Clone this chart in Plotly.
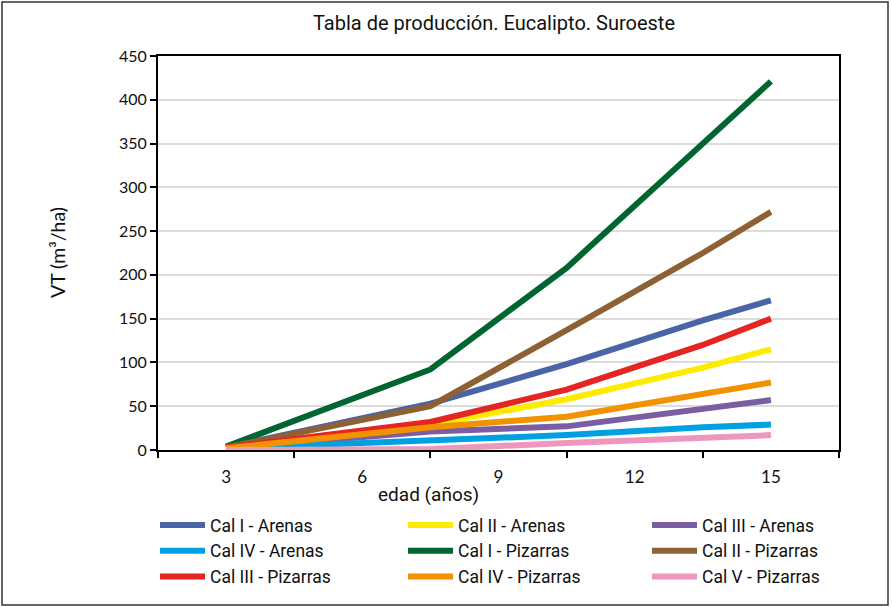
import plotly.graph_objects as go

# Edad (años) de cada medición
edad = [3, 7.5, 10.5, 13.5, 15]

# Volumen total (m3/ha) por calidad de estación y sustrato
cal_i_arenas = [3, 53, 98, 148, 171]
cal_ii_arenas = [3, 29, 58, 94, 115]
cal_iii_arenas = [2, 21, 27, 46, 57]
cal_iv_arenas = [2, 11, 17, 26, 29]
cal_i_pizarras = [4, 92, 208, 350, 421]
cal_ii_pizarras = [3, 50, 137, 225, 272]
cal_iii_pizarras = [3, 32, 69, 120, 150]
cal_iv_pizarras = [2, 26, 38, 64, 77]
cal_v_pizarras = [0, 1, 8, 14, 17]

series_names = [
    "Cal I - Arenas", "Cal II - Arenas", "Cal III - Arenas",
    "Cal IV - Arenas", "Cal I - Pizarras", "Cal II - Pizarras",
    "Cal III - Pizarras", "Cal IV - Pizarras", "Cal V - Pizarras",
]
series_values = [
    cal_i_arenas, cal_ii_arenas, cal_iii_arenas,
    cal_iv_arenas, cal_i_pizarras, cal_ii_pizarras,
    cal_iii_pizarras, cal_iv_pizarras, cal_v_pizarras,
]
series_colors = [
    "#4a64a8", "#ffeb00", "#7b5ea1",
    "#00a0e1", "#006530", "#8e6135",
    "#e52522", "#f39200", "#ee97be",
]

x_tick_vals = [3, 6, 9, 12, 15]
x_tick_text = ["3", "6", "9", "12", "15"]
x_sep_ticks = [1.5, 4.5, 7.5, 10.5, 13.5, 16.5]
y_tick_vals = list(range(0, 451, 50))

W, H = 892, 607
ML, MR, MT, MB = 158, 53, 56, 157
PW, PH = W - ML - MR, H - MT - MB

textfont = "Roboto, Noto Sans, sans-serif"
numfont = "Lato, Noto Sans, sans-serif"

# la leyenda se reparte en tres columnas
legend_ids = ["legend", "legend2", "legend3"]
legend_left_px = [155, 403, 647]

fig = go.Figure()
for i, (name, vals, col) in enumerate(zip(series_names, series_values, series_colors)):
    fig.add_trace(go.Scatter(
        x=edad, y=vals, name=name, mode="lines",
        line=dict(color=col, width=6),
        legend=legend_ids[i % 3],
    ))

legend_common = dict(
    orientation="v", xanchor="left", y=-(507 - (H - MB)) / PH, yanchor="top",
    itemwidth=45, font=dict(family=textfont, size=17.5, color="#111"),
    tracegroupgap=0, bgcolor="rgba(0,0,0,0)", borderwidth=0,
)

fig.update_layout(
    width=W, height=H,
    margin=dict(l=ML, r=MR, t=MT, b=MB, autoexpand=False),
    paper_bgcolor="white", plot_bgcolor="white",
    title=dict(text="Tabla de producción. Eucalipto. Suroeste",
               x=494 / W, xanchor="center", y=1 - 23 / H, yanchor="middle",
               font=dict(family=textfont, size=20, color="#111")),
    xaxis=dict(
        range=[1.5, 16.5], tickmode="array", tickvals=x_tick_vals,
        ticktext=x_tick_text, ticks="", showgrid=False, zeroline=False,
        showline=True, linecolor="black", linewidth=2, mirror=True,
        ticklabelstandoff=11,
        tickfont=dict(family=numfont, size=17, color="#111"),
        minor=dict(tickmode="array", tickvals=x_sep_ticks, ticks="outside",
                   ticklen=6, tickwidth=2, tickcolor="black", showgrid=False),
    ),
    yaxis=dict(
        range=[0, 450], tickmode="array", tickvals=y_tick_vals,
        ticks="outside", ticklen=6, tickwidth=2, tickcolor="black",
        showgrid=True, gridcolor="#dcdcdc", gridwidth=1.5, zeroline=False,
        showline=True, linecolor="black", linewidth=2, mirror=True,
        tickfont=dict(family=numfont, size=16, color="#111"),
    ),
    legend=dict(x=(legend_left_px[0] - ML) / PW, **legend_common),
    legend2=dict(x=(legend_left_px[1] - ML) / PW, **legend_common),
    legend3=dict(x=(legend_left_px[2] - ML) / PW, **legend_common),
    showlegend=True,
)

fig.add_annotation(text="edad (años)", xref="paper", yref="paper",
                   x=(428 - ML) / PW, y=-(494 - (H - MB)) / PH,
                   xanchor="center", yanchor="middle", showarrow=False,
                   font=dict(family=textfont, size=19, color="#111"))
fig.add_annotation(text="VT (m³/ha)", xref="paper", yref="paper",
                   x=(57 - ML) / PW, y=0.5, textangle=-90,
                   xanchor="center", yanchor="middle", showarrow=False,
                   font=dict(family=numfont, size=19.5, color="#111"))

# marco exterior del gráfico
fig.add_shape(type="rect", xref="paper", yref="paper",
              x0=(2 - ML) / PW, x1=(888 - ML) / PW,
              y0=-(605 - MT - PH) / PH, y1=1 + (MT - 2) / PH,
              line=dict(color="#333", width=1.5), fillcolor="rgba(0,0,0,0)",
              layer="below")

fig.write_html("out.html")
